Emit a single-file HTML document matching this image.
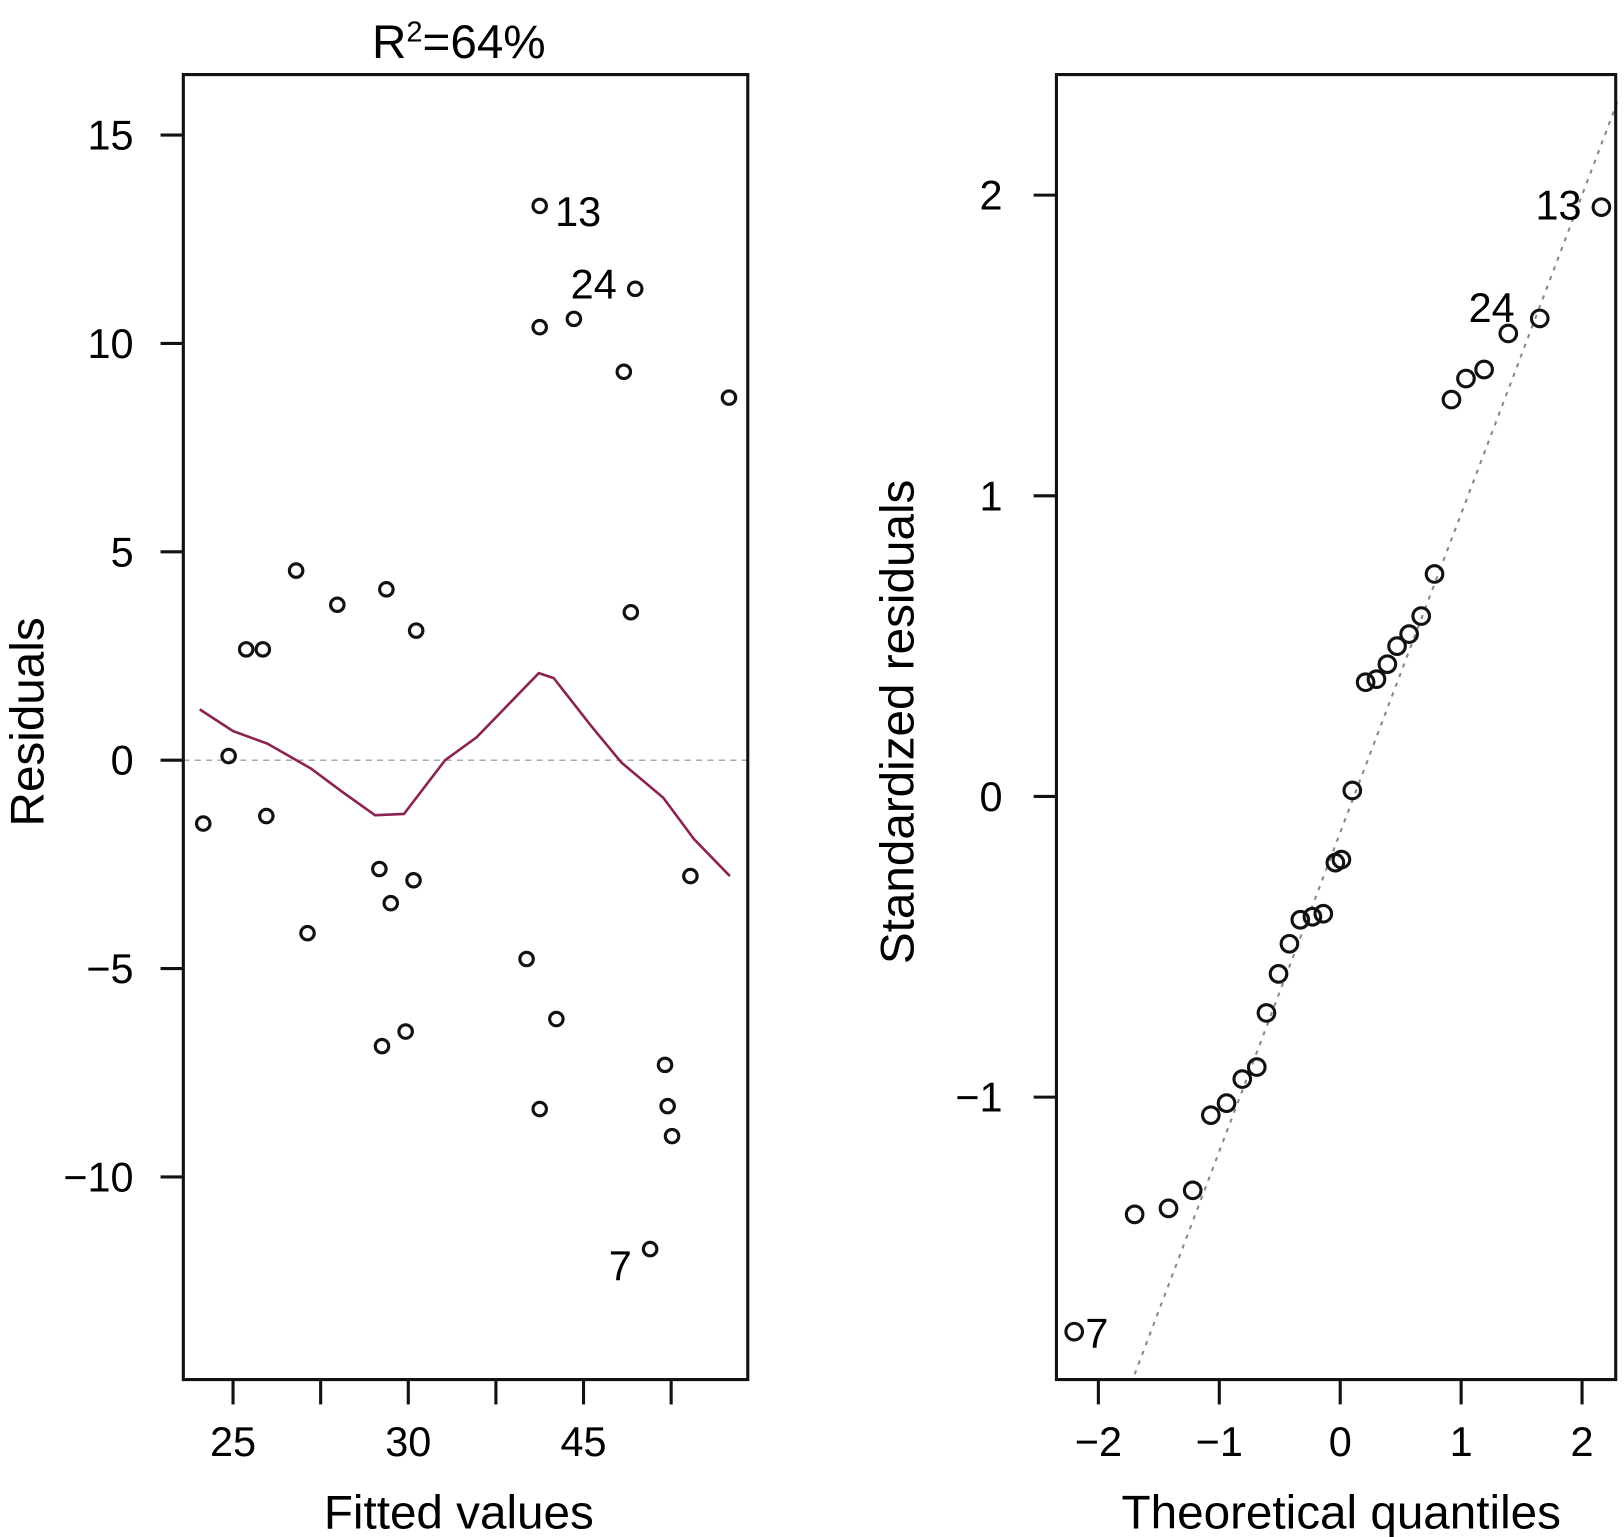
<!DOCTYPE html>
<html><head><meta charset="utf-8"><style>
html,body{margin:0;padding:0;background:#fff;}
svg{display:block;font-family:"Liberation Sans",Arial,sans-serif;}
</style></head><body>
<svg id="chart" width="1624" height="1537" viewBox="0 0 1568 1484" xmlns="http://www.w3.org/2000/svg">
<rect width="1568" height="1484" fill="#fff"/>
<g id="left"></g>
<g id="right"></g>
</svg>
<script>
// Left panel data: x in tick-index units (ticks at 0..5), y residuals
const fitX = [-0.34,-0.05,0.15,0.34,0.38,0.72,0.85,1.19,1.67,1.70,1.75,1.80,1.97,2.06,2.09,3.35,3.50,3.50,3.50,3.69,3.89,4.46,4.54,4.59,4.76,4.93,4.96,5.01,5.22,5.66];
const residY = [-1.52,0.1,2.66,2.66,-1.34,4.55,-4.15,3.73,-2.61,-6.86,4.1,-3.43,-6.51,-2.88,3.11,-4.77,13.3,10.39,-8.37,-6.21,10.59,9.32,3.55,11.31,-11.73,-7.31,-8.30,-9.02,-2.78,8.70];
const smoothX = [-0.38,0,0.39,0.89,1.24,1.62,1.95,2.42,2.78,3.49,3.66,4.08,4.43,4.91,5.26,5.67];
const smoothY = [1.22,0.7,0.4,-0.2,-0.75,-1.32,-1.29,0,0.55,2.09,1.97,0.84,-0.05,-0.9,-1.89,-2.78];
const leftYTicks = [15,10,5,0,-5,-10];
const leftYTickLabels = ["15","10","5","0","\u22125","\u221210"];
const leftXTicks = [0,1,2,3,4,5];
const leftXTickLabels = ["25","","30","","45",""];
// Right panel data
const theoQ = [-2.20,-1.70,-1.42,-1.22,-1.07,-0.94,-0.81,-0.69,-0.61,-0.51,-0.42,-0.33,-0.23,-0.14,-0.04,0.01,0.10,0.21,0.30,0.39,0.47,0.57,0.67,0.78,0.92,1.04,1.19,1.39,1.65,2.16];
const stdRes = [-1.78,-1.39,-1.37,-1.31,-1.06,-1.02,-0.94,-0.90,-0.72,-0.59,-0.49,-0.41,-0.40,-0.39,-0.22,-0.21,0.02,0.38,0.39,0.44,0.50,0.54,0.60,0.74,1.32,1.39,1.42,1.54,1.59,1.96];
const qqLine = [-0.12, 1.06]; // intercept, slope
const rightYTicks = [2,1,0,-1];
const rightYTickLabels = ["2","1","0","\u22121"];
const rightXTicks = [-2,-1,0,1,2];
const rightXTickLabels = ["\u22122","\u22121","0","1","2"];

const NS = "http://www.w3.org/2000/svg";
const TICK_FS = 40, TITLE_FS = 46;
function mk(parent, tag, attrs, text){
  const e = document.createElementNS(NS, tag);
  for (const k in attrs) e.setAttribute(k, attrs[k]);
  if (text !== undefined) e.textContent = text;
  parent.appendChild(e);
  return e;
}
const lx = v => 225 + v * 84.6;
const ly = v => 734 - v * 40.24;
const rx = v => 1294 + v * 116.75;
const ry = v => 769 - v * 290.3;

const L = document.getElementById('left');
const R = document.getElementById('right');

// ---- Left panel ----
let t = mk(L,'text',{x:443,y:56,'font-size':TITLE_FS,'text-anchor':'middle'});


t.innerHTML = 'R<tspan dy="-16" font-size="28">2</tspan><tspan dy="16">=64%</tspan>';

let z = mk(L,'line',{x1:177,x2:722,y1:ly(0),y2:ly(0),stroke:'#aaa','stroke-width':1.5,'stroke-dasharray':'6,5'});



let sp = mk(L,'polyline',{points:smoothX.map((x,i)=>lx(x)+','+ly(smoothY[i])).join(' '),fill:'none',stroke:'#8b2252','stroke-width':2.5});



fitX.forEach((x,i)=>{
  const c = mk(L,'circle',{cx:lx(x),cy:ly(residY[i]),r:6.5,fill:'none',stroke:'#111','stroke-width':3});
  
  
});
[["13",536,218,'start'],["24",551,288,'start'],["7",610,1236,'end']].forEach(a=>{
  const e = mk(L,'text',{x:a[1],y:a[2],'font-size':TICK_FS,'text-anchor':a[3]},a[0]);
  
  
});
let box = mk(L,'rect',{x:177,y:72,width:545,height:1260,fill:'none',stroke:'#111','stroke-width':3});


leftYTicks.forEach((v,i)=>{
  const tk = mk(L,'line',{x1:155,x2:177,y1:ly(v),y2:ly(v),stroke:'#111','stroke-width':3});
  
  
  const lb = mk(L,'text',{x:129,y:ly(v)+14,'font-size':TICK_FS,'text-anchor':'end'},leftYTickLabels[i]);
  
  
});
leftXTicks.forEach((v,i)=>{
  const tk = mk(L,'line',{x1:lx(v),x2:lx(v),y1:1332,y2:1356,stroke:'#111','stroke-width':3});
  
  
  if (leftXTickLabels[i]) {
    const lb = mk(L,'text',{x:lx(v),y:1406,'font-size':TICK_FS,'text-anchor':'middle'},leftXTickLabels[i]);
    
    
  }
});
let xt = mk(L,'text',{x:443,y:1476,'font-size':TITLE_FS,'text-anchor':'middle'},'Fitted values');


let yt = mk(L,'text',{x:0,y:0,'font-size':TITLE_FS,'text-anchor':'middle',transform:'translate(42,697) rotate(-90)'},'Residuals');



// ---- Right panel ----
const qx0 = -1.73, qx1 = 2.3;
let ql = mk(R,'line',{x1:rx(qx0),y1:ry(qqLine[0]+qqLine[1]*qx0),x2:rx(qx1),y2:ry(qqLine[0]+qqLine[1]*qx1),stroke:'#888','stroke-width':2,'stroke-dasharray':'4,6'});


theoQ.forEach((x,i)=>{
  const c = mk(R,'circle',{cx:rx(x),cy:ry(stdRes[i]),r:8,fill:'none',stroke:'#111','stroke-width':3});
  
  
});
[["13",1527,212,'end'],["24",1418,311,'start'],["7",1048,1301,'start']].forEach(a=>{
  const e = mk(R,'text',{x:a[1],y:a[2],'font-size':TICK_FS,'text-anchor':a[3]},a[0]);
  
  
});
let m1 = mk(R,'rect',{x:1562,y:0,width:10,height:1484,fill:'#fff'});


let m2 = mk(R,'rect',{x:1000,y:1333,width:568,height:40,fill:'#fff'});


let box2 = mk(R,'rect',{x:1020,y:72,width:540,height:1260,fill:'none',stroke:'#111','stroke-width':3});


rightYTicks.forEach((v,i)=>{
  const tk = mk(R,'line',{x1:998,x2:1020,y1:ry(v),y2:ry(v),stroke:'#111','stroke-width':3});
  
  
  const lb = mk(R,'text',{x:968,y:ry(v)+14,'font-size':TICK_FS,'text-anchor':'end'},rightYTickLabels[i]);
  
  
});
rightXTicks.forEach((v,i)=>{
  const tk = mk(R,'line',{x1:rx(v),x2:rx(v),y1:1332,y2:1356,stroke:'#111','stroke-width':3});
  
  
  const lb = mk(R,'text',{x:rx(v),y:1406,'font-size':TICK_FS,'text-anchor':'middle'},rightXTickLabels[i]);
  
  
});
let xt2 = mk(R,'text',{x:1295,y:1476,'font-size':TITLE_FS,'text-anchor':'middle'},'Theoretical quantiles');


let yt2 = mk(R,'text',{x:0,y:0,'font-size':TITLE_FS,'text-anchor':'middle',transform:'translate(882,697) rotate(-90)'},'Standardized residuals');


</script>
</body></html>
